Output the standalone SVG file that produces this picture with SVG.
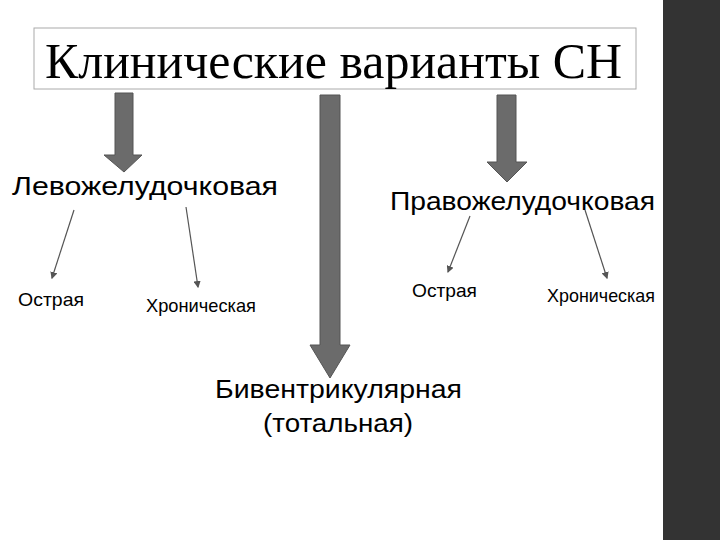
<svg xmlns="http://www.w3.org/2000/svg" width="720" height="540" viewBox="0 0 720 540">
<style>
.big{font-family:"Liberation Sans",Arial,sans-serif;font-size:25px;fill:#000}
.sm{font-family:"Liberation Sans",Arial,sans-serif;font-size:19px;fill:#000}
.ln{stroke:#555;stroke-width:1.2;fill:none}
.fat{fill:#6b6b6b;stroke:#555;stroke-width:1}
</style>
<defs><marker id="ah" markerWidth="6" markerHeight="6" refX="5" refY="3" orient="auto"><path d="M0,0L6,3L0,6z" fill="#555"/></marker></defs>
<rect width="720" height="540" fill="#fff"/>
<rect x="663" y="0" width="57" height="540" fill="#333"/>
<g id="title"><rect x="34" y="28" width="602" height="61" fill="#fff" stroke="#aaa"/>
<text x="45" y="78" textLength="577" lengthAdjust="spacingAndGlyphs" style="font-family:'Liberation Serif','Times New Roman',serif;font-size:50px">Клинические варианты СН</text></g>
<g id="lv"><text class="big" x="12" y="195" textLength="266" lengthAdjust="spacingAndGlyphs">Левожелудочковая</text></g>
<g id="rv"><text class="big" x="390" y="210" textLength="265" lengthAdjust="spacingAndGlyphs">Правожелудочковая</text></g>
<g id="lv-a"><text class="sm" x="18" y="306" textLength="66" lengthAdjust="spacingAndGlyphs">Острая</text></g>
<g id="lv-c"><text class="sm" x="146" y="312" textLength="110" lengthAdjust="spacingAndGlyphs">Хроническая</text></g>
<g id="rv-a"><text class="sm" x="412" y="297" textLength="65" lengthAdjust="spacingAndGlyphs">Острая</text></g>
<g id="rv-c"><text class="sm" x="547" y="302" textLength="108" lengthAdjust="spacingAndGlyphs">Хроническая</text></g>
<g id="biv"><text class="big" x="215" y="398" textLength="247" lengthAdjust="spacingAndGlyphs">Бивентрикулярная</text><text class="big" x="263" y="432" textLength="150" lengthAdjust="spacingAndGlyphs">(тотальная)</text></g>
<g id="connectors">
<path class="fat" d="M115,93H133V155H142L124,172L104,155H115Z"/>
<path class="fat" d="M320,95H340V345H350L330,378L310,345H320Z"/>
<path class="fat" d="M497,95H516V162H527L507,182L487,162H497Z"/>
<line class="ln" x1="74" y1="210" x2="52" y2="278" marker-end="url(#ah)"/>
<line class="ln" x1="186" y1="207" x2="198" y2="287" marker-end="url(#ah)"/>
<line class="ln" x1="470" y1="216" x2="448" y2="272" marker-end="url(#ah)"/>
<line class="ln" x1="585" y1="210" x2="607" y2="278" marker-end="url(#ah)"/>
</g>
</svg>
